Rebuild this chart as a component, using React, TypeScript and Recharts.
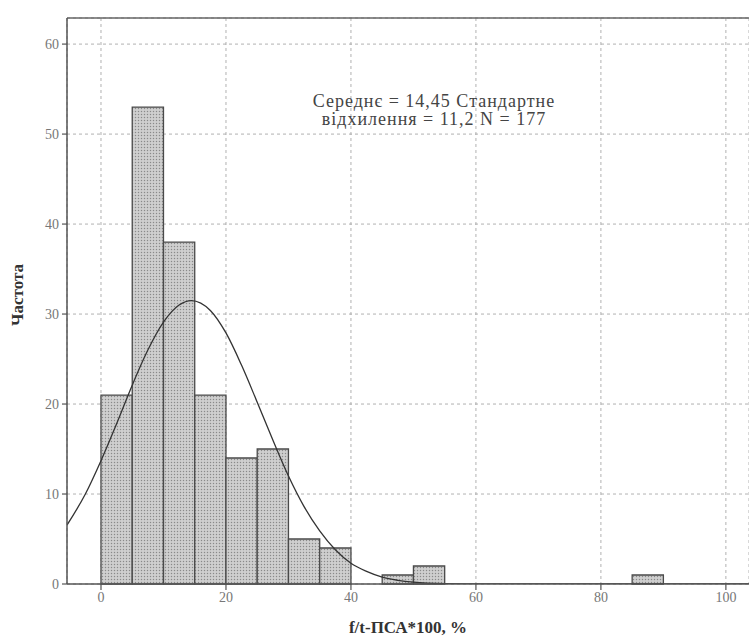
import React from 'react';
import {
  ComposedChart, Line, XAxis, YAxis, CartesianGrid, ReferenceArea, ReferenceLine,
} from 'recharts';

// Histogram bins (start, end) and frequencies
const binStarts = [0, 5, 10, 15, 20, 25, 30, 35, 45, 50, 85];
const binEnds = [5, 10, 15, 20, 25, 30, 35, 40, 50, 55, 90];
const binCounts = [21, 53, 38, 21, 14, 15, 5, 4, 1, 2, 1];

// Normal curve
const curveX = [-5.44, -2.5, 0, 2.5, 5, 7.5, 10, 12.5, 14.45, 17.5, 20, 22.5, 25, 27.5, 30, 32.5, 35, 37.5, 40, 42.5, 45, 47.5, 50, 55, 60, 70, 80, 90, 103.7];
const curveY = [6.55, 10.0, 13.7, 17.8, 22.1, 26.0, 29.1, 31.0, 31.5, 30.4, 27.9, 24.3, 20.2, 16.0, 12.0, 8.6, 5.9, 3.8, 2.3, 1.4, 0.76, 0.41, 0.2, 0.04, 0.01, 0, 0, 0, 0];

const xTicks = [0, 20, 40, 60, 80, 100];
const yTicks = [0, 10, 20, 30, 40, 50, 60];

const statLine1 = 'Середнє = 14,45 Стандартне';
const statLine2 = 'відхилення = 11,2  N = 177';
const xLabel = 'f/t-ПСА*100, %';
const yLabel = 'Частота';

const curveData = curveX.map((x, i) => ({ x, y: curveY[i] }));

const FONT = '"Liberation Serif", "DejaVu Serif", serif';

const YLabel = (props: any) => {
  const vb = props.viewBox || {};
  const cy = (vb.y || 0) + (vb.height || 0) / 2 - 6;
  return (
    <text
      x={17}
      y={cy}
      dy="0.35em"
      transform={`rotate(-90, 17, ${cy})`}
      textAnchor="middle"
      fontFamily={FONT}
      fontWeight="bold"
      fontSize={17}
      fill="#333"
    >
      {yLabel}
    </text>
  );
};

export default function App() {
  return (
    <div style={{ position: 'absolute', left: 0, top: 0, width: 749, height: 637, background: '#fff' }}>
      <ComposedChart
        width={749}
        height={637}
        data={curveData}
        margin={{ top: 18, right: 0, bottom: 0, left: 0 }}
      >
        <defs>
          <pattern id="dots" width="3" height="3" patternUnits="userSpaceOnUse">
            <rect width="3" height="3" fill="#c6c6c6" />
            <rect x="0" y="0" width="1" height="1" fill="#8a8a8a" />
            <rect x="1.5" y="1.5" width="1" height="1" fill="#ececec" />
          </pattern>
        </defs>
        <CartesianGrid stroke="#a8a8a8" strokeDasharray="3 3" strokeWidth={0.9} />
        <XAxis
          type="number"
          dataKey="x"
          domain={[-5.44, 103.7]}
          allowDataOverflow
          ticks={xTicks}
          height={53}
          tickSize={6}
          tickMargin={2}
          axisLine={{ stroke: '#555', strokeWidth: 1.5 }}
          tickLine={{ stroke: '#555', strokeWidth: 1.2 }}
          tick={{ fontFamily: FONT, fontSize: 14, fill: '#777' }}
          label={{ value: xLabel, position: 'insideBottom', offset: 4, fontFamily: FONT, fontWeight: 'bold', fontSize: 17, fill: '#333' }}
        />
        <YAxis
          type="number"
          domain={[0, 62.9]}
          allowDataOverflow
          ticks={yTicks}
          width={67}
          tickSize={5}
          tickMargin={3}
          axisLine={{ stroke: '#555', strokeWidth: 1.5 }}
          tickLine={{ stroke: '#555', strokeWidth: 1.2 }}
          tick={{ fontFamily: FONT, fontSize: 14, fill: '#777' }}
          label={<YLabel />}
        />
        <ReferenceLine y={62.9} stroke="#666" strokeWidth={1.5} ifOverflow="extendDomain" />
        {binStarts.map((s, i) => (
          <ReferenceArea
            key={i}
            x1={s}
            x2={binEnds[i]}
            y1={0}
            y2={binCounts[i]}
            fill="url(#dots)"
            fillOpacity={1}
            stroke="#4a4a4a"
            strokeWidth={1.3}
          />
        ))}
        <Line
          type="monotone"
          dataKey="y"
          stroke="#333"
          strokeWidth={1.3}
          dot={false}
          activeDot={false}
          isAnimationActive={false}
        />
      </ComposedChart>
      <div
        style={{
          position: 'absolute', left: 234, top: 92, width: 400, textAlign: 'center',
          fontFamily: FONT, fontSize: 18, lineHeight: '18px', letterSpacing: 1, color: '#444',
        }}
      >
        <div>{statLine1}</div>
        <div>{statLine2}</div>
      </div>
    </div>
  );
}
